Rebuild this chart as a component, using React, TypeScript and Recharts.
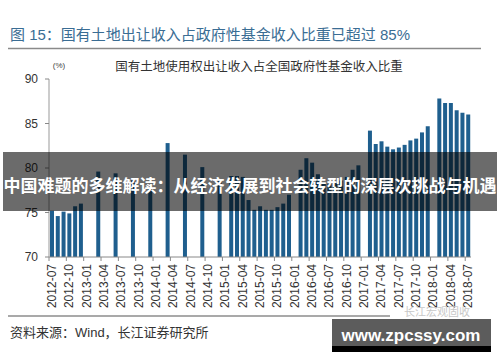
import React from 'react'
import { BarChart, Bar, XAxis, YAxis } from 'recharts'

// 国有土地使用权出让收入占全国政府性基金收入比重 (%)，1月无数据
const y2012 = [75.2, 74.6, 75.1, 74.9, 75.7, 76.0] // 7-12月
const y2013 = [null, null, 79.6, null, null, 79.4, null, null, 78.6, null, null, 77.8]
const y2014 = [null, null, 82.8, null, null, 81.5, null, null, 80.1, null, null, 78.6]
const y2015 = [null, 79.1, 79.1, 79.0, 76.4, 75.3, 75.7, 75.3, 75.3, 75.6, 76.0, 77.0]
const y2016 = [null, 79.8, 81.1, 80.6, 79.3, 78.4, 78.2, 78.3, 78.6, 79.0, 79.8, 80.3]
const y2017 = [null, 84.2, 82.7, 83.0, 82.4, 82.1, 82.3, 82.6, 83.1, 83.3, 84.0, 84.7]
const y2018 = [null, 87.8, 87.3, 87.3, 86.5, 86.2, 86.0] // 1-7月

const years: [number, number, (number | null)[]][] = [
  [2012, 7, y2012],
  [2013, 1, y2013],
  [2014, 1, y2014],
  [2015, 1, y2015],
  [2016, 1, y2016],
  [2017, 1, y2017],
  [2018, 1, y2018],
]

const yTicks = [70, 75, 80, 85, 90]

const data = years.flatMap(([year, first, vals]) =>
  vals.map((v, i) => ({
    month: `${year}-${String(first + i).padStart(2, '0')}`,
    value: v,
  }))
)

const FONT = "'Liberation Sans', 'Noto Sans CJK SC', sans-serif"
const PLOT_W = 422
const BAND = PLOT_W / data.length

function MonthTick({ x, y, payload }: any) {
  return (
    <g>
      <line x1={x - BAND / 2} x2={x - BAND / 2} y1={y - 7} y2={y - 3} stroke="#888" />
      <text
        x={x}
        y={y}
        transform={`rotate(-90, ${x}, ${y})`}
        textAnchor="end"
        dominantBaseline="central"
        fontSize={12}
        fill="#333"
        fontFamily={FONT}
      >
        {payload.value}
      </text>
    </g>
  )
}

export default function App() {
  return (
    <div
      style={{
        position: 'fixed',
        left: 0,
        top: 0,
        width: 500,
        height: 362,
        background: '#fff',
        overflow: 'hidden',
        fontFamily: FONT,
      }}
    >
      <div style={{ position: 'absolute', left: 0, top: 0 }}>
        <BarChart
          width={500}
          height={362}
          data={data}
          margin={{ top: 79, right: 500 - 49 - PLOT_W, bottom: 45, left: 0 }}
          barCategoryGap={0}
        >
          <XAxis
            dataKey="month"
            interval={2}
            height={60}
            tickSize={4}
            tickMargin={3}
            tickLine={false}
            axisLine={{ stroke: '#888' }}
            tick={<MonthTick />}
          />
          <YAxis
            width={49}
            domain={[70, 90]}
            ticks={yTicks}
            tickSize={4}
            tickMargin={7}
            axisLine={{ stroke: '#999' }}
            tickLine={{ stroke: '#888' }}
            tick={{ fontSize: 12, fill: '#333', fontFamily: FONT }}
          />
          <Bar dataKey="value" fill="#1f5f8e" barSize={4} isAnimationActive={false} />
        </BarChart>
      </div>

      <svg
        width={500}
        height={362}
        style={{ position: 'absolute', left: 0, top: 0, pointerEvents: 'none' }}
        fontFamily={FONT}
      >
        <text x={10} y={34} fontSize={15} fill="#3a6d94" dominantBaseline="central">
          图 15：国有土地出让收入占政府性基金收入比重已超过 85%
        </text>
        <line x1={8} x2={481} y1={48.5} y2={48.5} stroke="#8a8a8a" strokeWidth={1.5} />
        <text x={59} y={65} fontSize={8} fill="#444" textAnchor="middle" dominantBaseline="central">
          (%)
        </text>
        <text x={259} y={67} fontSize={12.5} fill="#333" textAnchor="middle" dominantBaseline="central">
          国有土地使用权出让收入占全国政府性基金收入比重
        </text>

        <line x1={8} x2={390} y1={316} y2={316} stroke="#555" strokeWidth={1.2} />
        <text x={10} y={332} fontSize={13} fill="#333" dominantBaseline="central">
          资料来源：Wind，长江证券研究所
        </text>

        {/* 横幅 */}
        <rect x={3} y={152} width={494} height={59} fill="rgba(0,0,0,0.58)" />
        <text
          x={250}
          y={186}
          fontSize={17}
          fontWeight="bold"
          fill="#fff"
          textAnchor="middle"
          dominantBaseline="central"
        >
          中国难题的多维解读：从经济发展到社会转型的深层次挑战与机遇
        </text>

        {/* 水印 */}
        <text x={404} y={312} fontSize={11} fill="#c8c8c8" dominantBaseline="central">
          长江宏观固收
        </text>
        <rect x={332} y={319} width={159} height={27} fill="#5c5c5c" />
        <rect x={332} y={346} width={159} height={6} fill="#000" />
        <text
          x={411}
          y={335}
          fontSize={17}
          fontWeight="bold"
          fill="#fff"
          textAnchor="middle"
          dominantBaseline="central"
        >
          www.zpcssy.com
        </text>
      </svg>
    </div>
  )
}
